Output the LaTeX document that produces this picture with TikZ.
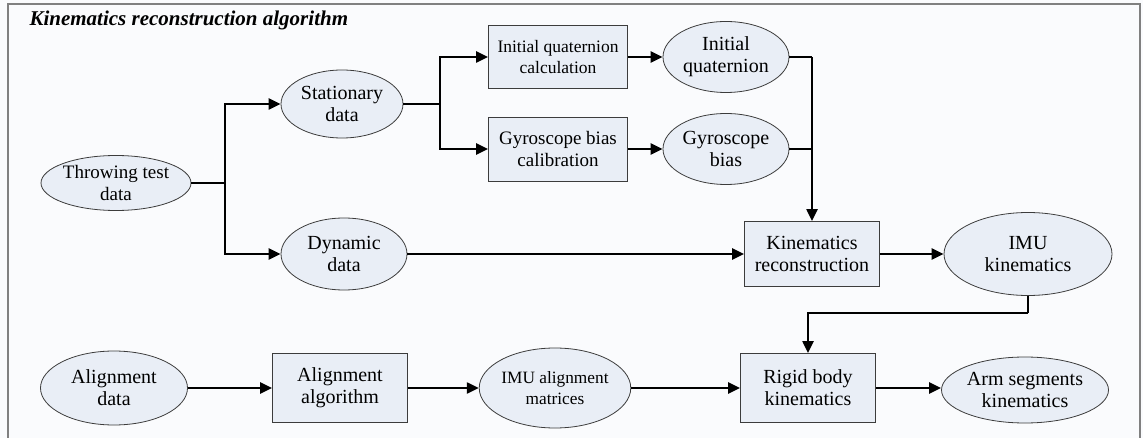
\documentclass[tikz,border=0pt]{standalone}
\usepackage{fontspec}
\setmainfont{Liberation Serif}
\usetikzlibrary{arrows.meta}
\definecolor{nodefill}{RGB}{233,238,246}
\definecolor{bgcol}{RGB}{250,251,253}
\definecolor{framecol}{RGB}{128,128,128}
\definecolor{edgecol}{RGB}{60,60,60}
\tikzset{
  x=1pt,y=-1pt,
  ell/.style={ellipse,draw=edgecol,line width=0.8pt,fill=nodefill,inner sep=0pt,align=center,font=\fontsize{20}{22}\selectfont},
  boxn/.style={rectangle,draw=edgecol,line width=0.8pt,fill=nodefill,inner sep=0pt,align=center,font=\fontsize{20}{22}\selectfont},
  arr/.style={line width=2.2pt,-{Triangle[length=12pt,width=11pt]}},
  ln/.style={line width=2.2pt},
}
\usetikzlibrary{shapes.geometric}
\begin{document}
\begin{tikzpicture}
\useasboundingbox (0,0) rectangle (1143,438);
\fill[bgcol] (0,0) rectangle (1143,438);
\draw[framecol,line width=1.5pt] (8,438) -- (8,4) -- (1140,4) -- (1140,438);
\node[anchor=base west,font=\fontsize{21}{22}\selectfont\bfseries\itshape] (title) at (26,26) {Kinematics reconstruction algorithm};

\node[ell,minimum width=142,minimum height=55,font=\fontsize{19}{22}\selectfont] (throw) at (116,183) {Throwing test\\data};
\node[ell,minimum width=122,minimum height=68] (stat) at (342,104) {Stationary\\data};
\node[ell,minimum width=126,minimum height=72] (dyn) at (344,254) {Dynamic\\data};
\node[boxn,minimum width=139,minimum height=63,font=\fontsize{17.5}{21}\selectfont] (iqc) at (558,57) {Initial quaternion\\calculation};
\node[boxn,minimum width=139,minimum height=64,font=\fontsize{19}{22}\selectfont] (gbc) at (558,149) {Gyroscope bias\\calibration};
\node[ell,minimum width=126,minimum height=71] (iq) at (726,57) {Initial\\quaternion};
\node[ell,minimum width=126,minimum height=71] (gb) at (726,149) {Gyroscope\\bias};
\node[boxn,minimum width=135,minimum height=65] (kr) at (812,254) {Kinematics\\reconstruction};
\node[ell,minimum width=168,minimum height=83] (imu) at (1028,254) {IMU\\kinematics};
\node[ell,minimum width=147,minimum height=74] (ad) at (114,388) {Alignment\\data};
\node[boxn,minimum width=135,minimum height=69] (aa) at (340,388) {Alignment\\algorithm};
\node[ell,minimum width=143,minimum height=80,font=\fontsize{17.3}{21}\selectfont] (iam) at (555,388) {IMU alignment\\matrices};
\node[boxn,minimum width=135,minimum height=69] (rb) at (808,388) {Rigid body\\kinematics};
\node[ell,minimum width=167,minimum height=66] (arm) at (1025,390) {Arm segments\\kinematics};

\coordinate (j1) at (225,183);
\coordinate (j2) at (440,104);
\coordinate (j3) at (812,57);
\coordinate (j4) at (812,149);
\coordinate (j5) at (1028,313);

\draw[ln] (throw.east) -- (j1);
\draw[arr] (j1) |- (stat.west);
\draw[arr] (j1) |- (dyn.west);
\draw[ln] (stat.east) -- (j2);
\draw[arr] (j2) |- (iqc.west);
\draw[arr] (j2) |- (gbc.west);
\draw[arr] (iqc) -- (iq);
\draw[arr] (gbc) -- (gb);
\draw[ln] (iq.east) -- (j3);
\draw[ln] (gb.east) -- (j4);
\draw[arr] (j3) -- (kr.north);
\draw[arr] (dyn) -- (kr);
\draw[arr] (kr) -- (imu);
\draw[ln] (imu.south) -- (j5);
\draw[arr] (j5) -| (rb.north);
\draw[arr] (ad) -- (aa);
\draw[arr] (aa) -- (iam);
\draw[arr] (iam) -- (rb);
\draw[arr] (rb.east) -- (rb.east -| arm.west);
\end{tikzpicture}
\end{document}
